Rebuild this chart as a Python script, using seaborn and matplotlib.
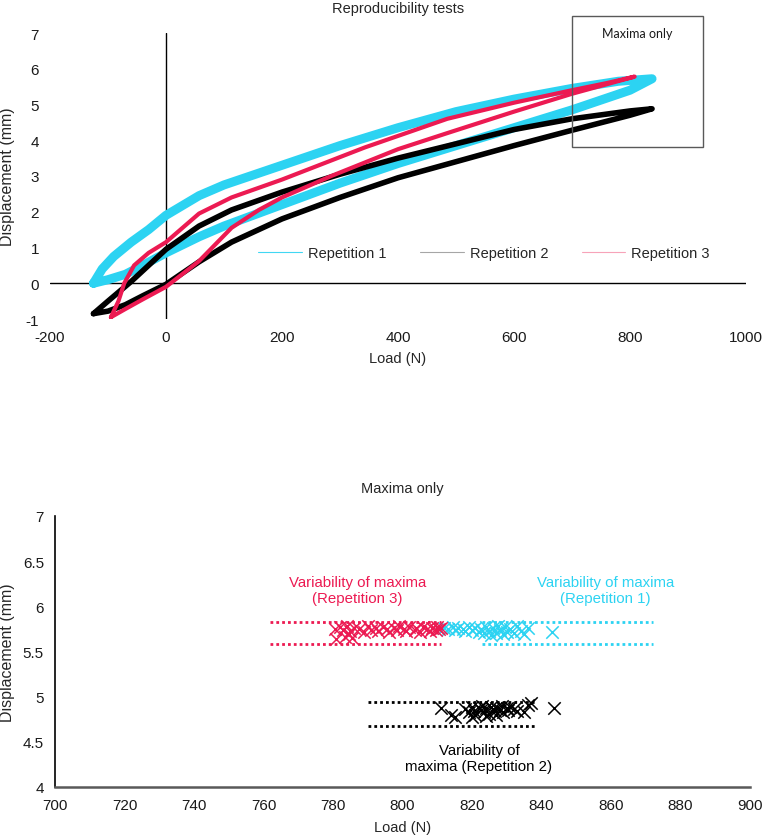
import matplotlib
matplotlib.use("Agg")
import matplotlib.pyplot as plt
from matplotlib.lines import Line2D
from matplotlib.patches import Rectangle
import seaborn as sns
import pandas as pd

sns.set_theme(style="white")
plt.rcParams['font.family'] = ['Liberation Sans', 'DejaVu Sans']
plt.rcParams['axes.unicode_minus'] = False

# ---------------- data: hysteresis loops (Load N, Displacement mm) ----------------
rep1_up_load = [-125, -110, -90, -60, -30, 0, 57, 100, 200, 300, 400, 500, 600, 700, 780, 838]
rep1_up_disp = [0.0, 0.4, 0.75, 1.15, 1.5, 1.9, 2.45, 2.75, 3.3, 3.85, 4.35, 4.8, 5.15, 5.45, 5.65, 5.72]
rep1_lo_load = [-125, -100, -70, -40, 0, 57, 100, 200, 300, 400, 500, 600, 700, 800, 838]
rep1_lo_disp = [0.0, 0.1, 0.25, 0.5, 0.85, 1.3, 1.6, 2.2, 2.8, 3.35, 3.85, 4.35, 4.85, 5.4, 5.72]

rep2_up_load = [-125, -100, -60, -30, 0, 57, 113, 200, 300, 400, 500, 600, 700, 800, 838]
rep2_up_disp = [-0.85, -0.5, 0.05, 0.5, 0.95, 1.6, 2.05, 2.55, 3.05, 3.5, 3.9, 4.3, 4.6, 4.82, 4.88]
rep2_lo_load = [-125, -100, -70, -40, 0, 57, 113, 200, 300, 400, 500, 600, 700, 800, 838]
rep2_lo_disp = [-0.85, -0.78, -0.6, -0.35, -0.03, 0.6, 1.15, 1.8, 2.4, 2.95, 3.4, 3.85, 4.28, 4.7, 4.88]

rep3_up_load = [-95, -82, -72, -55, -30, 0, 57, 113, 200, 343, 485, 600, 700, 760, 808]
rep3_up_disp = [-0.95, -0.5, 0.0, 0.5, 0.85, 1.15, 1.95, 2.4, 2.9, 3.8, 4.6, 5.05, 5.4, 5.6, 5.78]
rep3_lo_load = [-95, -70, -40, 0, 57, 113, 160, 200, 285, 400, 485, 600, 700, 808]
rep3_lo_disp = [-0.95, -0.72, -0.45, -0.1, 0.62, 1.55, 2.05, 2.4, 3.0, 3.75, 4.2, 4.8, 5.3, 5.78]

# ---------------- data: maxima of each cycle ----------------
rep1_max_load = [812, 813, 814.5, 815, 816, 817.5, 818, 819, 820, 821, 822, 822.5, 823.5, 824, 825,
                 825.5, 826, 827, 827.5, 828, 829, 829.5, 830, 831, 832, 833, 834, 835, 836, 843]
rep1_max_disp = [5.76, 5.75, 5.77, 5.74, 5.76, 5.75, 5.73, 5.77, 5.74, 5.76, 5.72, 5.75, 5.70, 5.77, 5.73,
                 5.68, 5.76, 5.71, 5.78, 5.74, 5.69, 5.77, 5.72, 5.75, 5.70, 5.78, 5.73, 5.69, 5.76, 5.72]

rep2_max_load = [811, 814, 815, 818, 819, 820, 820.5, 821, 822, 822.5, 823, 823.5, 824, 825, 825.5, 826,
                 826.5, 827, 828, 828.5, 829, 830, 830.5, 831, 832, 833, 835, 836, 837, 843.5, 820, 824, 827]
rep2_max_disp = [4.87, 4.80, 4.77, 4.86, 4.83, 4.89, 4.84, 4.80, 4.88, 4.85, 4.90, 4.83, 4.87, 4.81, 4.89, 4.86,
                 4.84, 4.88, 4.85, 4.90, 4.83, 4.87, 4.85, 4.89, 4.86, 4.84, 4.83, 4.91, 4.93, 4.88, 4.78, 4.79, 4.80]

rep3_max_load = [780.5, 782, 783, 784, 785, 786, 787.5, 789, 790, 791, 792.5, 793, 794.5, 795.5, 796, 797.5,
                 798.5, 799, 800.5, 801, 802, 803.5, 804, 805, 806, 807, 808, 808.5, 809.5, 810, 810.5, 811,
                 781, 783.5, 785.5, 784.5]
rep3_max_disp = [5.75, 5.77, 5.74, 5.78, 5.73, 5.76, 5.75, 5.72, 5.78, 5.74, 5.76, 5.73, 5.77, 5.75, 5.72, 5.76,
                 5.74, 5.78, 5.75, 5.73, 5.77, 5.74, 5.76, 5.72, 5.77, 5.75, 5.73, 5.76, 5.74, 5.77, 5.75, 5.76,
                 5.64, 5.66, 5.65, 5.69]

# variability bands: load extent and (upper, lower) displacement
rep1_band_load = [823, 872]
rep2_band_load = [790, 838]
rep3_band_load = [762, 811]
rep1_band_disp = [5.83, 5.58]
rep2_band_disp = [4.94, 4.68]
rep3_band_disp = [5.83, 5.58]

labels = ["Repetition 1", "Repetition 2", "Repetition 3"]
CYAN = "#2CD3F2"
BLACK = "#000000"
RED = "#EC1A52"
colors = [CYAN, BLACK, RED]

x_ticks_top = [-200, 0, 200, 400, 600, 800, 1000]
y_ticks_top = [-1, 0, 1, 2, 3, 4, 5, 6, 7]
x_ticks_bot = [700, 720, 740, 760, 780, 800, 820, 840, 860, 880, 900]
y_ticks_bot = [4, 4.5, 5, 5.5, 6, 6.5, 7]


def loop_frame(up_l, up_d, lo_l, lo_d, name):
    load = list(lo_l) + list(up_l[::-1])
    disp = list(lo_d) + list(up_d[::-1])
    return pd.DataFrame({"load": load, "disp": disp, "rep": name})


loops = [
    loop_frame(rep1_up_load, rep1_up_disp, rep1_lo_load, rep1_lo_disp, labels[0]),
    loop_frame(rep2_up_load, rep2_up_disp, rep2_lo_load, rep2_lo_disp, labels[1]),
    loop_frame(rep3_up_load, rep3_up_disp, rep3_lo_load, rep3_lo_disp, labels[2]),
]
widths = [6.5, 4.0, 3.0]

TICK_FS = 11
LAB_FS = 11.5
TXT_FS = 10.8

fig = plt.figure(figsize=(7.65, 8.37), dpi=100)
W, H = 765, 837

# ---------------- top chart ----------------
ax1 = fig.add_axes([50 / W, 1 - 320 / H, 696 / W, 286 / H])
for df, c, lw in zip(loops, colors, widths):
    sns.lineplot(data=df, x="load", y="disp", sort=False, estimator=None, color=c,
                 linewidth=lw, ax=ax1, legend=False)
ax1.set_xlim(-200, 1000)
ax1.set_ylim(-1, 7)
ax1.set_xticks(x_ticks_top)
ax1.set_yticks(y_ticks_top)
ax1.tick_params(length=0, labelsize=TICK_FS, pad=8, colors="#1a1a1a")
for s in ax1.spines.values():
    s.set_visible(False)
ax1.axhline(0, color="black", lw=1.0, zorder=0.5)
ax1.axvline(0, color="black", lw=1.0, zorder=0.5)
ax1.set_xlabel("Load (N)", fontsize=10.5, labelpad=5)
ax1.set_ylabel("Displacement (mm)", fontsize=LAB_FS)
ax1.yaxis.set_label_coords((15 - 50) / 696, 0.5)
ax1.set_title("Reproducibility tests", fontsize=10.5, pad=15)
ax1.add_patch(Rectangle((700, 3.8), 225, 3.68, fill=False, edgecolor="#595959", lw=1.0,
                        clip_on=False, zorder=5))
ax1.text(812, 7.0, "Maxima only", ha="center", va="center", fontsize=9,
         family=["Lato", "DejaVu Sans"], color="#1a1a1a")
handles = [Line2D([0], [0], color=c, lw=0.8, alpha=a) for c, a in zip(colors, [0.9, 0.35, 0.4])]
fig.legend(handles, labels, loc="center", bbox_to_anchor=(484 / W, 1 - 254 / H), ncol=3,
           frameon=False, fontsize=10.5, handlelength=3.0, handletextpad=0.4, columnspacing=2.3)

# ---------------- bottom chart ----------------
ax2 = fig.add_axes([55 / W, 1 - 788 / H, 695 / W, 271 / H])
maxima = [(rep1_max_load, rep1_max_disp), (rep2_max_load, rep2_max_disp), (rep3_max_load, rep3_max_disp)]
for (ml, md), c in zip(maxima, colors):
    sns.scatterplot(x=ml, y=md, marker="x", color=c, s=80, linewidth=1.1, ax=ax2, zorder=3)
bands = [(rep1_band_load, rep1_band_disp), (rep2_band_load, rep2_band_disp), (rep3_band_load, rep3_band_disp)]
for (bl, bd), c in zip(bands, colors):
    for yv in bd:
        sns.lineplot(x=bl, y=[yv, yv], color=c, linewidth=2.0, linestyle=(0, (1, 1.1)), ax=ax2)
ax2.set_xlim(700, 900)
ax2.set_ylim(4, 7)
ax2.set_xticks(x_ticks_bot)
ax2.set_yticks(y_ticks_bot)
ax2.set_yticklabels([f"{v:g}" for v in y_ticks_bot])
ax2.tick_params(length=0, labelsize=TICK_FS, pad=8, colors="#1a1a1a")
ax2.spines["top"].set_visible(False)
ax2.spines["right"].set_visible(False)
ax2.spines["left"].set_color("black")
ax2.spines["left"].set_linewidth(1.2)
ax2.spines["bottom"].set_color("#595959")
ax2.spines["bottom"].set_linewidth(1.8)
ax2.set_xlabel("Load (N)", fontsize=10.5, labelpad=6)
ax2.set_ylabel("Displacement (mm)", fontsize=LAB_FS)
ax2.yaxis.set_label_coords((15 - 55) / 695, 0.5)
ax2.set_title("Maxima only", fontsize=10.5, pad=17)
ax2.text(787, 6.18, "Variability of maxima\n(Repetition 3)", ha="center", va="center",
         color=RED, fontsize=TXT_FS, linespacing=1.12)
ax2.text(858.5, 6.18, "Variability of maxima\n(Repetition 1)", ha="center", va="center",
         color=CYAN, fontsize=TXT_FS, linespacing=1.12)
ax2.text(822, 4.32, "Variability of\nmaxima (Repetition 2)", ha="center", va="center",
         color=BLACK, fontsize=TXT_FS, linespacing=1.12)

fig.savefig("out.png", dpi=100)
